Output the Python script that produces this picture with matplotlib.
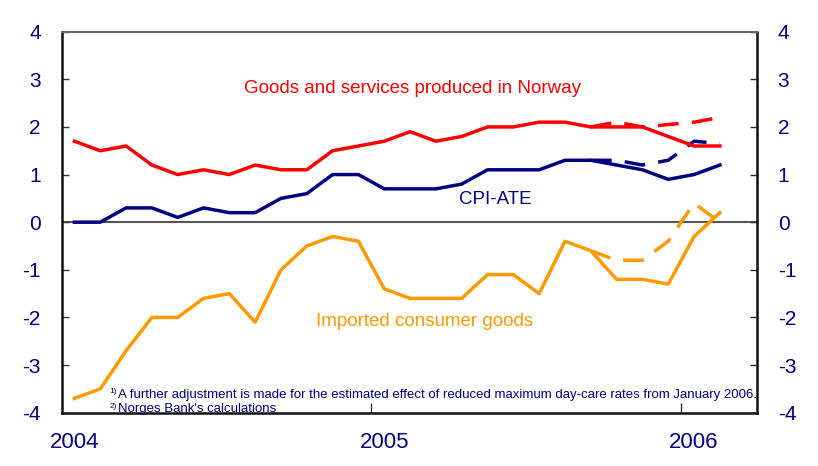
import matplotlib
matplotlib.use("Agg")
import matplotlib.pyplot as plt
import numpy as np

plt.rcParams['font.family'] = ['Liberation Sans', 'DejaVu Sans']
plt.rcParams['axes.unicode_minus'] = False

# monthly data Jan 2004 - Feb 2006, 12-month rise in percent
months = np.arange(26) + 0.5
domestic = [1.7, 1.5, 1.6, 1.2, 1.0, 1.1, 1.0, 1.2, 1.1, 1.1, 1.5, 1.6, 1.7,
            1.9, 1.7, 1.8, 2.0, 2.0, 2.1, 2.1, 2.0, 2.0, 2.0, 1.8, 1.6, 1.6]
cpi_ate = [0.0, 0.0, 0.3, 0.3, 0.1, 0.3, 0.2, 0.2, 0.5, 0.6, 1.0, 1.0, 0.7,
           0.7, 0.7, 0.8, 1.1, 1.1, 1.1, 1.3, 1.3, 1.2, 1.1, 0.9, 1.0, 1.2]
imported = [-3.7, -3.5, -2.7, -2.0, -2.0, -1.6, -1.5, -2.1, -1.0, -0.5, -0.3, -0.4, -1.4,
            -1.6, -1.6, -1.6, -1.1, -1.1, -1.5, -0.4, -0.6, -1.2, -1.2, -1.3, -0.3, 0.2]
# adjusted series (dashed), from Sep 2005
adj_months = months[20:]
domestic_adj = [2.0, 2.1, 2.0, 2.05, 2.1, 2.2]
cpi_ate_adj = [1.3, 1.3, 1.2, 1.3, 1.7, 1.65]
imported_adj = [-0.6, -0.8, -0.8, -0.4, 0.4, 0.0]

year_labels = ['2004', '2005', '2006']

red = '#ff0000'
navy = '#000080'
orange = '#ff9900'

fig = plt.figure(figsize=(8.18, 4.66), dpi=100)
ax = fig.add_axes([0.0752, 0.1144, 0.85, 0.8176])

ax.axhline(0, color='#555555', lw=1.5, zorder=1)

lw = 2.5
ax.plot(months, domestic, color=red, lw=lw, zorder=3)
ax.plot(months, cpi_ate, color=navy, lw=lw, zorder=3)
ax.plot(months, imported, color=orange, lw=lw, zorder=3)
ax.plot(adj_months, domestic_adj, color=red, lw=lw, dashes=(6, 3.8), zorder=2)
ax.plot(adj_months, cpi_ate_adj, color=navy, lw=lw, dashes=(6, 3.8), zorder=2)
ax.plot(adj_months, imported_adj, color=orange, lw=lw, dashes=(6, 3.8), zorder=2)

ax.set_xlim(0, 26.93)
ax.set_ylim(-4, 4)

# year labels at mid-January, tick marks at year boundaries
ax.set_xticks([0.5, 12.5, 24.5])
ax.set_xticklabels(year_labels)
ax.set_xticks([12, 24], minor=True)
ax.tick_params(axis='x', which='major', length=0, pad=14, labelsize=16, labelcolor=navy)
ax.tick_params(axis='x', which='minor', direction='in', length=7, width=1, color='#333333')

ax.set_yticks(range(-4, 5))
ax.tick_params(axis='y', which='major', direction='in', length=5, width=1, color='#333333',
               labelsize=15, labelcolor=navy, pad=15, left=True, right=True,
               labelleft=True, labelright=True)

for side in ['left', 'bottom', 'right']:
    ax.spines[side].set_linewidth(1.8)
    ax.spines[side].set_color('#111111')
ax.spines['top'].set_linewidth(1.5)
ax.spines['top'].set_color('#666666')

ax.text(13.6, 2.8, 'Goods and services produced in Norway', color=red,
        fontsize=13.5, ha='center', va='center')
ax.text(16.8, 0.47, 'CPI-ATE', color=navy, fontsize=13.5, ha='center', va='center')
ax.text(14.07, -2.09, 'Imported consumer goods', color=orange,
        fontsize=13.5, ha='center', va='center')

ax.text(1.85, -3.56, '1)', color=navy, fontsize=6, ha='left', va='center')
ax.text(2.2, -3.62, 'A further adjustment is made for the estimated effect of reduced '
        'maximum day-care rates from January 2006.', color=navy, fontsize=9.5,
        ha='left', va='center')
ax.text(1.85, -3.86, '2)', color=navy, fontsize=6, ha='left', va='center')
ax.text(2.2, -3.92, "Norges Bank's calculations", color=navy, fontsize=9.5,
        ha='left', va='center')

fig.savefig('out.png', dpi=100)
